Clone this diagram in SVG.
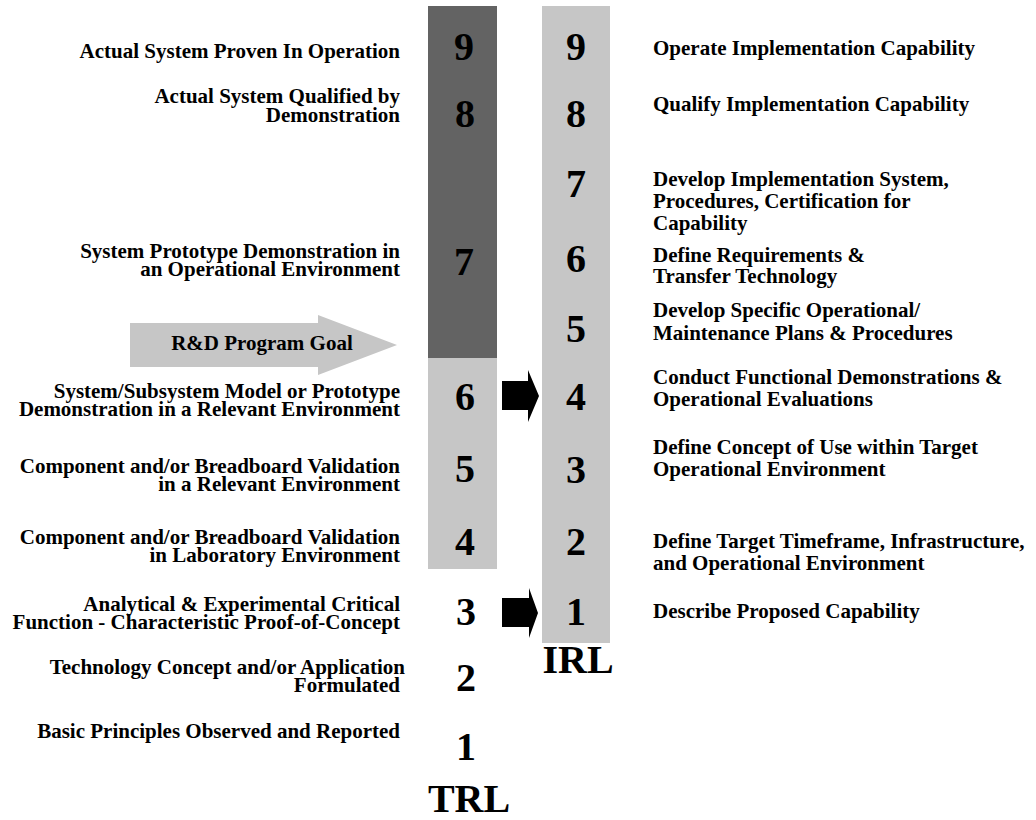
<svg xmlns="http://www.w3.org/2000/svg" width="1036" height="820" viewBox="0 0 1036 820">
<style>
.t{font-family:"Liberation Serif","Times New Roman",serif;font-weight:bold;font-size:21px;fill:#000}
.l{text-anchor:end}
.n{font-family:"Liberation Serif","Times New Roman",serif;font-weight:bold;font-size:40px;fill:#000;text-anchor:middle}
.dark{fill:#636363}
.light{fill:#c6c6c6}
.blk{fill:#000}
</style>
<rect width="1036" height="820" fill="#fff"/>
<g id="trl-column">
<rect class="dark" x="428" y="6" width="69" height="352"/>
<rect class="light" x="428" y="358" width="69" height="211"/>
</g>
<g id="irl-column">
<rect class="light" x="542" y="6" width="68" height="637"/>
</g>
<g id="rd-goal">
<polygon class="light" points="130,323 318,323 318,315 397,345 318,375 318,367 130,367"/>
<text class="t" x="262" y="350" text-anchor="middle">R&amp;D Program Goal</text>
</g>
<g id="trl-9"><text class="n" x="464" y="60">9</text><text class="t l" x="400" y="58">Actual System Proven In Operation</text></g>
<g id="trl-8"><text class="n" x="465" y="127">8</text><text class="t l" x="400" y="103">Actual System Qualified by</text><text class="t l" x="400" y="122">Demonstration</text></g>
<g id="trl-7"><text class="n" x="464" y="275">7</text><text class="t l" x="400" y="258">System Prototype Demonstration in</text><text class="t l" x="400" y="276">an Operational Environment</text></g>
<g id="trl-6"><text class="n" x="465" y="410">6</text><text class="t l" x="400" y="398">System/Subsystem Model or Prototype</text><text class="t l" x="400" y="416">Demonstration in a Relevant Environment</text></g>
<g id="trl-5"><text class="n" x="465" y="482">5</text><text class="t l" x="400" y="473">Component and/or Breadboard Validation</text><text class="t l" x="400" y="491">in a Relevant Environment</text></g>
<g id="trl-4"><text class="n" x="465" y="555">4</text><text class="t l" x="400" y="544">Component and/or Breadboard Validation</text><text class="t l" x="400" y="562">in Laboratory Environment</text></g>
<g id="trl-3"><text class="n" x="466" y="625">3</text><text class="t l" x="400" y="611">Analytical &amp; Experimental Critical</text><text class="t l" x="400" y="629">Function - Characteristic Proof-of-Concept</text></g>
<g id="trl-2"><text class="n" x="466" y="691">2</text><text class="t l" x="405" y="674">Technology Concept and/or Application</text><text class="t l" x="400" y="692">Formulated</text></g>
<g id="trl-1"><text class="n" x="466" y="760">1</text><text class="t l" x="400" y="738">Basic Principles Observed and Reported</text></g>
<g id="trl-label"><text class="n" x="469" y="812">TRL</text></g>
<g id="irl-9"><text class="n" x="576" y="60">9</text><text class="t" x="653" y="55">Operate Implementation Capability</text></g>
<g id="irl-8"><text class="n" x="576" y="127">8</text><text class="t" x="653" y="111">Qualify Implementation Capability</text></g>
<g id="irl-7"><text class="n" x="576" y="197">7</text><text class="t" x="653" y="186">Develop Implementation System,</text><text class="t" x="653" y="208">Procedures, Certification for</text><text class="t" x="653" y="230">Capability</text></g>
<g id="irl-6"><text class="n" x="576" y="272">6</text><text class="t" x="653" y="262">Define Requirements &amp;</text><text class="t" x="653" y="283">Transfer Technology</text></g>
<g id="irl-5"><text class="n" x="576" y="342">5</text><text class="t" x="653" y="317">Develop Specific Operational/</text><text class="t" x="653" y="340">Maintenance Plans &amp; Procedures</text></g>
<g id="irl-4"><text class="n" x="576" y="410">4</text><text class="t" x="653" y="384">Conduct Functional Demonstrations &amp;</text><text class="t" x="653" y="406">Operational Evaluations</text></g>
<g id="irl-3"><text class="n" x="576" y="483">3</text><text class="t" x="653" y="454">Define Concept of Use within Target</text><text class="t" x="653" y="476">Operational Environment</text></g>
<g id="irl-2"><text class="n" x="576" y="555">2</text><text class="t" x="653" y="548">Define Target Timeframe, Infrastructure,</text><text class="t" x="653" y="570">and Operational Environment</text></g>
<g id="irl-1"><text class="n" x="576" y="625">1</text><text class="t" x="653" y="618">Describe Proposed Capability</text></g>
<g id="irl-label"><text class="n" x="578" y="673">IRL</text></g>
<g id="connectors">
<polygon class="blk" points="502,381 528,381 528,370 539,396 528,422 528,410 502,410"/>
<polygon class="blk" points="502,598 529,598 529,588 538,613 529,638 529,627 502,627"/>
</g>
</svg>
